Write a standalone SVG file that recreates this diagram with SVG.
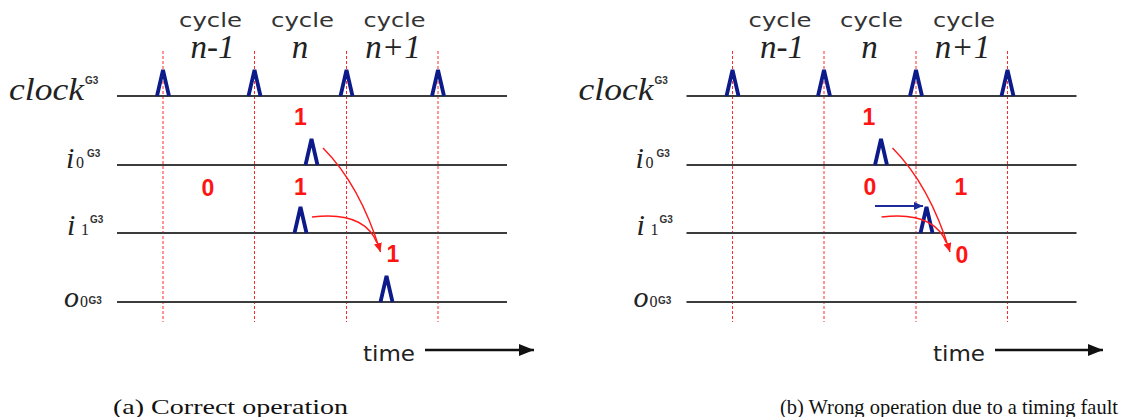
<svg xmlns="http://www.w3.org/2000/svg" xmlns:xlink="http://www.w3.org/1999/xlink" width="1148" height="417" viewBox="0 0 1148 417">
<style>
.hl{stroke:#3c3c3c;stroke-width:1.8}
.vl{stroke:#ff2a2a;stroke-width:1;stroke-dasharray:3 2}
.pulse{fill:none;stroke:#0c1a8a;stroke-width:3.8}
.val{font-family:"Liberation Sans",sans-serif;font-weight:bold;font-size:23px;fill:#ff1414;text-anchor:middle}
.cyc{font-family:"DejaVu Sans",sans-serif;font-size:20px;fill:#333;text-anchor:middle}
.nlab{font-family:"Liberation Serif",serif;font-style:italic;font-size:33px;fill:#222;text-anchor:middle}
.sig{font-family:"Liberation Serif",serif;font-style:italic;font-size:30px;fill:#222}
.clk{font-family:"Liberation Serif",serif;font-style:italic;font-size:32px;fill:#222}
.sub{font-family:"Liberation Serif",serif;font-size:16px;fill:#222}
.sup{font-family:"Liberation Sans",sans-serif;font-weight:bold;font-size:10px;fill:#333}
.time{font-family:"DejaVu Sans",sans-serif;font-size:22px;fill:#222}
.cap{font-family:"Liberation Serif",serif;font-size:22px;fill:#111}
.arr{fill:none;stroke:#ff1a1a;stroke-width:1.4}
.barr{fill:none;stroke:#1c2a9a;stroke-width:2}
.tarr{fill:none;stroke:#111;stroke-width:2.6}
</style>
<defs>
<path id="pl" class="pulse" d="M-6,0 L0,-26 L6,0"/>
<marker id="mr" markerUnits="userSpaceOnUse" markerWidth="12" markerHeight="10" refX="9" refY="4" orient="auto"><path d="M0,0 L9,4 L0,8 z" fill="#ff1a1a"/></marker>
<marker id="mb" markerUnits="userSpaceOnUse" markerWidth="12" markerHeight="10" refX="9" refY="4" orient="auto"><path d="M0,0 L9,4 L0,8 z" fill="#1c2a9a"/></marker>
<marker id="mk" markerUnits="userSpaceOnUse" markerWidth="18" markerHeight="14" refX="15" refY="6" orient="auto"><path d="M0,0 L15,6 L0,12 z" fill="#111"/></marker>
</defs>

<g id="panel-a">
  <g id="a-grid">
    <line class="vl" x1="163" y1="51" x2="163" y2="322"/>
    <line class="vl" x1="254.5" y1="51" x2="254.5" y2="322"/>
    <line class="vl" x1="346.5" y1="51" x2="346.5" y2="322"/>
    <line class="vl" x1="438" y1="51" x2="438" y2="322"/>
    <line class="hl" x1="117" y1="96" x2="507" y2="96"/>
    <line class="hl" x1="117" y1="165" x2="507" y2="165"/>
    <line class="hl" x1="117" y1="233" x2="507" y2="233"/>
    <line class="hl" x1="117" y1="302" x2="507" y2="302"/>
  </g>
  <g id="a-cycles">
    <text class="cyc" x="210.5" y="27" textLength="63" lengthAdjust="spacingAndGlyphs">cycle</text>
    <text class="cyc" x="302.5" y="27" textLength="63" lengthAdjust="spacingAndGlyphs">cycle</text>
    <text class="cyc" x="394.5" y="27" textLength="62" lengthAdjust="spacingAndGlyphs">cycle</text>
    <text class="nlab" x="212.5" y="58">n-1</text>
    <text class="nlab" x="300" y="58">n</text>
    <text class="nlab" x="393" y="58">n+1</text>
  </g>
  <g id="a-clock">
    <text class="clk" x="9" y="100" textLength="75" lengthAdjust="spacingAndGlyphs">clock</text>
    <text class="sup" x="85" y="84">G3</text>
    <use xlink:href="#pl" href="#pl" transform="translate(163,96)"/>
    <use xlink:href="#pl" href="#pl" transform="translate(254.5,96)"/>
    <use xlink:href="#pl" href="#pl" transform="translate(346.5,96)"/>
    <use xlink:href="#pl" href="#pl" transform="translate(438,96)"/>
  </g>
  <g id="a-i0">
    <text class="sig" x="66" y="168">i</text>
    <text class="sub" x="76" y="168">0</text>
    <text class="sup" x="87" y="157">G3</text>
    <use xlink:href="#pl" href="#pl" transform="translate(311.5,165)"/>
  </g>
  <g id="a-i1">
    <text class="sig" x="67" y="235">i</text>
    <text class="sub" x="81" y="235">1</text>
    <text class="sup" x="90" y="223">G3</text>
    <use xlink:href="#pl" href="#pl" transform="translate(300.5,233)"/>
  </g>
  <g id="a-o0">
    <text class="sig" x="64" y="307">o</text>
    <text class="sub" x="80" y="307">0</text>
    <text class="sup" x="88.5" y="304">G3</text>
    <use xlink:href="#pl" href="#pl" transform="translate(386.5,302)"/>
  </g>
  <g id="a-values">
    <text class="val" x="300.5" y="125">1</text>
    <text class="val" x="208" y="196">0</text>
    <text class="val" x="300.5" y="195">1</text>
    <text class="val" x="393" y="262">1</text>
  </g>
  <g id="a-connectors">
    <path class="arr" d="M323,148 Q360,185 380.5,252" marker-end="url(#mr)"/>
    <path class="arr" d="M312,217 C345,213 368,220 377,243"/>
  </g>
  <g id="a-time">
    <text class="time" x="363" y="361" textLength="52" lengthAdjust="spacingAndGlyphs">time</text>
    <line class="tarr" x1="425" y1="350" x2="534" y2="350" marker-end="url(#mk)"/>
  </g>
  <text id="a-caption" class="cap" x="113" y="414" textLength="235" lengthAdjust="spacingAndGlyphs">(a) Correct operation</text>
</g>

<g id="panel-b">
  <g id="b-grid">
    <line class="vl" x1="732.5" y1="51" x2="732.5" y2="322"/>
    <line class="vl" x1="824" y1="51" x2="824" y2="322"/>
    <line class="vl" x1="916" y1="51" x2="916" y2="322"/>
    <line class="vl" x1="1007.5" y1="51" x2="1007.5" y2="322"/>
    <line class="hl" x1="686.5" y1="96" x2="1076.5" y2="96"/>
    <line class="hl" x1="686.5" y1="165" x2="1076.5" y2="165"/>
    <line class="hl" x1="686.5" y1="233" x2="1076.5" y2="233"/>
    <line class="hl" x1="686.5" y1="302" x2="1076.5" y2="302"/>
  </g>
  <g id="b-cycles">
    <text class="cyc" x="780" y="27" textLength="63" lengthAdjust="spacingAndGlyphs">cycle</text>
    <text class="cyc" x="871.5" y="27" textLength="63" lengthAdjust="spacingAndGlyphs">cycle</text>
    <text class="cyc" x="964" y="27" textLength="62" lengthAdjust="spacingAndGlyphs">cycle</text>
    <text class="nlab" x="782" y="58">n-1</text>
    <text class="nlab" x="869.5" y="58">n</text>
    <text class="nlab" x="962.5" y="58">n+1</text>
  </g>
  <g id="b-clock">
    <text class="clk" x="578.5" y="100" textLength="75" lengthAdjust="spacingAndGlyphs">clock</text>
    <text class="sup" x="654.5" y="84">G3</text>
    <use xlink:href="#pl" href="#pl" transform="translate(732.5,96)"/>
    <use xlink:href="#pl" href="#pl" transform="translate(824,96)"/>
    <use xlink:href="#pl" href="#pl" transform="translate(916,96)"/>
    <use xlink:href="#pl" href="#pl" transform="translate(1007.5,96)"/>
  </g>
  <g id="b-i0">
    <text class="sig" x="635.5" y="168">i</text>
    <text class="sub" x="645.5" y="168">0</text>
    <text class="sup" x="656.5" y="157">G3</text>
    <use xlink:href="#pl" href="#pl" transform="translate(881,165)"/>
  </g>
  <g id="b-i1">
    <text class="sig" x="636.5" y="235">i</text>
    <text class="sub" x="650.5" y="235">1</text>
    <text class="sup" x="659.5" y="223">G3</text>
    <use xlink:href="#pl" href="#pl" transform="translate(926.5,233)"/>
  </g>
  <g id="b-o0">
    <text class="sig" x="633.5" y="307">o</text>
    <text class="sub" x="649.5" y="307">0</text>
    <text class="sup" x="658" y="304">G3</text>
  </g>
  <g id="b-values">
    <text class="val" x="869" y="125">1</text>
    <text class="val" x="870" y="195">0</text>
    <text class="val" x="961" y="195">1</text>
    <text class="val" x="962" y="263">0</text>
  </g>
  <g id="b-connectors">
    <path class="arr" d="M892.5,148 Q929.5,185 950,252" marker-end="url(#mr)"/>
    <path class="arr" d="M881.5,217 C914.5,213 937.5,220 946.5,243"/>
    <line class="barr" x1="875" y1="206" x2="923" y2="206" marker-end="url(#mb)"/>
  </g>
  <g id="b-time">
    <text class="time" x="933" y="361" textLength="52" lengthAdjust="spacingAndGlyphs">time</text>
    <line class="tarr" x1="995" y1="350" x2="1103" y2="350" marker-end="url(#mk)"/>
  </g>
  <text id="b-caption" class="cap" x="780" y="414" textLength="338" lengthAdjust="spacingAndGlyphs">(b) Wrong operation due to a timing fault</text>
</g>
</svg>
